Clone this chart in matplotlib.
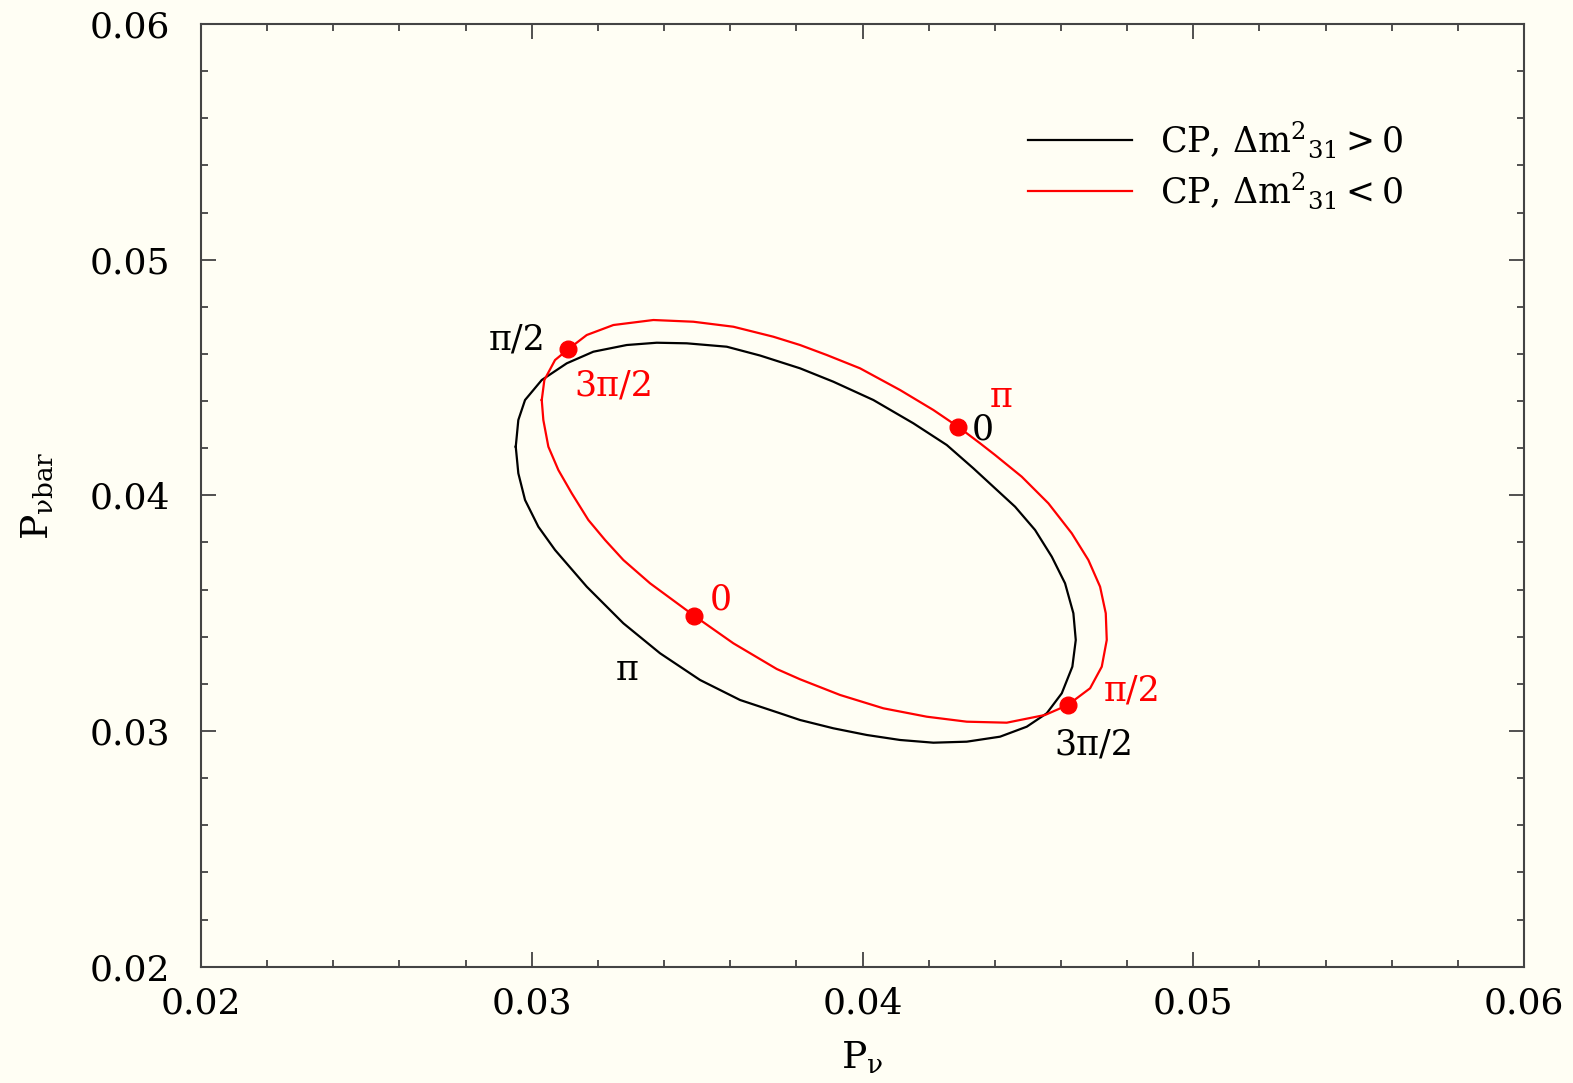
import numpy as np
import matplotlib.pyplot as plt
from matplotlib.ticker import MultipleLocator

# bi-probability curves, delta_CP running over 0..2pi
# normal hierarchy (dm^2_31 > 0)
p_nu_nh = [0.029515, 0.029593, 0.029796, 0.030301, 0.031057, 0.031861, 0.032871,
           0.033778, 0.034685, 0.035894, 0.036901, 0.038110, 0.039117, 0.040327,
           0.041536, 0.042546, 0.043350, 0.044006, 0.044611, 0.045216, 0.045721,
           0.046122, 0.046374, 0.046446, 0.046343, 0.046023, 0.045569, 0.044965,
           0.044157, 0.043151, 0.042141, 0.041134, 0.040127, 0.039117, 0.038110,
           0.037506, 0.036296, 0.035087, 0.033878, 0.032768, 0.031661, 0.030703,
           0.030198, 0.029796, 0.029593, 0.029515]
p_nubar_nh = [0.042065, 0.043198, 0.044046, 0.044895, 0.045603, 0.046096, 0.046380,
              0.046477, 0.046452, 0.046308, 0.045934, 0.045391, 0.044823, 0.044046,
              0.043058, 0.042137, 0.041148, 0.040300, 0.039519, 0.038530, 0.037397,
              0.036269, 0.034996, 0.033863, 0.032730, 0.031601, 0.030753, 0.030184,
              0.029760, 0.029548, 0.029505, 0.029620, 0.029832, 0.030116, 0.030468,
              0.030753, 0.031317, 0.032166, 0.033299, 0.034572, 0.036125, 0.037682,
              0.038670, 0.039803, 0.040936, 0.042065]

# inverted hierarchy (dm^2_31 < 0)
p_nu_ih = [0.030301, 0.030380, 0.030703, 0.0311, 0.031661, 0.032466, 0.033675,
           0.034884, 0.036094, 0.037303, 0.038110, 0.038918, 0.039924, 0.041134,
           0.042141, 0.0429, 0.043553, 0.044006, 0.044813, 0.045618, 0.046325,
           0.046827, 0.047181, 0.047353, 0.047383, 0.047232, 0.046879, 0.0462,
           0.045518, 0.044360, 0.043151, 0.041941, 0.040629, 0.039320, 0.038110,
           0.037406, 0.036094, 0.0349, 0.033575, 0.032768, 0.032215, 0.031710,
           0.031208, 0.030803, 0.030501, 0.030349, 0.030301]
p_nubar_ih = [0.044046, 0.044895, 0.045743, 0.0462, 0.046804, 0.047228, 0.047441,
              0.047368, 0.047156, 0.046732, 0.046380, 0.045956, 0.045391, 0.044470,
              0.043622, 0.0429, 0.042209, 0.041713, 0.040792, 0.039663, 0.038390,
              0.037257, 0.036125, 0.034996, 0.033863, 0.032730, 0.031814, 0.0311,
              0.030681, 0.030354, 0.030396, 0.030608, 0.030964, 0.031530, 0.032196,
              0.032632, 0.033723, 0.0349, 0.036269, 0.037257, 0.038106, 0.038955,
              0.040087, 0.041076, 0.042065, 0.043198, 0.044046]

# marked points: delta = 0, pi/2, pi, 3pi/2
dot_nu = [0.0349, 0.0462, 0.0429, 0.0311]
dot_nubar = [0.0349, 0.0311, 0.0429, 0.0462]

ticks = [0.02, 0.03, 0.04, 0.05, 0.06]
tick_labels = ['0.02', '0.03', '0.04', '0.05', '0.06']

bg = '#fffef4'
plt.rcParams['font.family'] = 'DejaVu Serif'
plt.rcParams['mathtext.fontset'] = 'dejavuserif'

fig = plt.figure(figsize=(15.73, 10.83), dpi=100, facecolor=bg)
ax = fig.add_axes([0.1278, 0.1074, 0.8411, 0.8704], facecolor=bg)

ax.plot(p_nu_nh, p_nubar_nh, color='black', lw=1.6,
        label=r'CP, $\Delta\mathrm{m}^{2}{}_{31} > 0$')
ax.plot(p_nu_ih, p_nubar_ih, color='red', lw=1.6,
        label=r'CP, $\Delta\mathrm{m}^{2}{}_{31} < 0$')
ax.plot(dot_nu, dot_nubar, 'o', color='red', ms=12, zorder=3)

# delta labels
notes = [
    ('π/2', 0.02955, 0.04662, 'black'),
    ('3π/2', 0.03249, 0.04467, 'red'),
    ('π', 0.04420, 0.04416, 'red'),
    ('0', 0.04365, 0.04280, 'black'),
    ('0', 0.03571, 0.03558, 'red'),
    ('π', 0.03289, 0.03257, 'black'),
    ('π/2', 0.04814, 0.03172, 'red'),
    ('3π/2', 0.04699, 0.02943, 'black'),
]
for txt, x, y, c in notes:
    ax.text(x, y, txt, color=c, fontsize=25, ha='center', va='center')

ax.set_xlim(0.02, 0.06)
ax.set_ylim(0.02, 0.06)
ax.set_xticks(ticks)
ax.set_xticklabels(tick_labels)
ax.set_yticks(ticks)
ax.set_yticklabels(tick_labels)
ax.xaxis.set_minor_locator(MultipleLocator(0.002))
ax.yaxis.set_minor_locator(MultipleLocator(0.002))
ax.tick_params(which='both', direction='in', top=True, right=True,
               color='#333333', width=1.2)
ax.tick_params(which='major', length=11)
ax.tick_params(which='minor', length=5)
ax.tick_params(axis='x', labelsize=26, pad=14)
ax.tick_params(axis='y', labelsize=26, pad=22)
for s in ax.spines.values():
    s.set_color('#444444')
    s.set_linewidth(1.5)

ax.set_xlabel(r'P$_{\mathrm{ν}}$', fontsize=27, labelpad=14)
ax.set_ylabel(r'P$_{\mathrm{νbar}}$', fontsize=27, labelpad=24)

ax.legend(loc='upper left', bbox_to_anchor=(0.612, 0.917), frameon=False,
          fontsize=25, handlelength=3.0, handletextpad=0.8, labelspacing=0.3,
          borderpad=0)

fig.savefig('out.png', dpi=100, facecolor=bg)
